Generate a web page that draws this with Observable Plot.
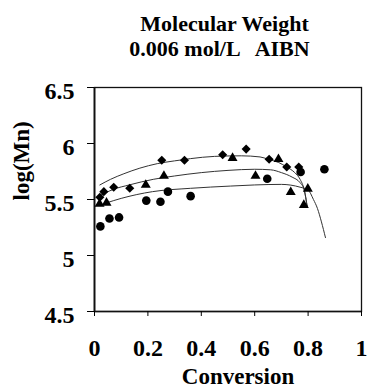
<!DOCTYPE html>
<html>
<head>
<meta charset="utf-8">
<script src="https://cdn.jsdelivr.net/npm/d3@7"></script>
<script src="https://cdn.jsdelivr.net/npm/@observablehq/plot@0.6"></script>
</head>
<body style="margin:0">
<div id="title" style="width:368px;height:64px;box-sizing:border-box;padding-top:12px;font-family:serif;font-weight:bold;font-size:22px;line-height:24.5px;color:black">
  <div id="t1" style="text-align:center;white-space:pre;padding-left:81px"></div>
  <div id="t2" style="text-align:center;white-space:pre;padding-left:71px"></div>
</div>
<div id="chart"></div>
<script>
const titleLine1 = "Molecular Weight";
const titleLine2 = "0.006 mol/L   AIBN";
const xLabel = "Conversion";
const yLabel = "log(Mn)";

const xTicks = [0, 0.2, 0.4, 0.6, 0.8, 1];
const xTickLabels = ["0", "0.2", "0.4", "0.6", "0.8", "1"];
const yTicks = [4.5, 5, 5.5, 6, 6.5];
const yTickLabels = ["4.5", "5", "5.5", "6", "6.5"];

// Data points
const diamondX = [0.02, 0.035, 0.072, 0.132, 0.252, 0.337, 0.48, 0.568, 0.654, 0.72, 0.765];
const diamondY = [5.52, 5.57, 5.61, 5.60, 5.85, 5.85, 5.90, 5.95, 5.86, 5.79, 5.79];
const triangleX = [0.019, 0.045, 0.192, 0.26, 0.517, 0.603, 0.689, 0.735, 0.784, 0.799];
const triangleY = [5.46, 5.47, 5.63, 5.71, 5.87, 5.71, 5.86, 5.565, 5.45, 5.595];
const circleX = [0.022, 0.056, 0.092, 0.194, 0.247, 0.275, 0.36, 0.647, 0.772, 0.861];
const circleY = [5.26, 5.33, 5.34, 5.49, 5.48, 5.57, 5.53, 5.685, 5.745, 5.77];

// Model curves
const topLineX = [0.02, 0.06, 0.11, 0.17, 0.235, 0.30, 0.36, 0.45, 0.55, 0.62, 0.65, 0.69, 0.72, 0.75, 0.77, 0.785, 0.797];
const topLineY = [5.63, 5.68, 5.73, 5.78, 5.82, 5.845, 5.865, 5.885, 5.89, 5.88, 5.86, 5.83, 5.79, 5.74, 5.68, 5.59, 5.43];
const midLineX = [0.01, 0.07, 0.13, 0.22, 0.30, 0.40, 0.50, 0.60, 0.66, 0.70, 0.74, 0.77, 0.785, 0.797];
const midLineY = [5.52, 5.59, 5.63, 5.68, 5.71, 5.74, 5.76, 5.77, 5.765, 5.74, 5.70, 5.65, 5.59, 5.43];
const lowLineX = [0.045, 0.10, 0.217, 0.36, 0.51, 0.60, 0.70, 0.77, 0.80, 0.82, 0.835, 0.85, 0.865];
const lowLineY = [5.47, 5.51, 5.57, 5.60, 5.62, 5.63, 5.635, 5.61, 5.585, 5.50, 5.42, 5.30, 5.16];

document.getElementById("t1").textContent = titleLine1;
document.getElementById("t2").textContent = titleLine2;

const pts = (xs, ys) => xs.map((x, i) => ({x, y: ys[i]}));
const font = "Times New Roman";

const chart = Plot.plot({
  width: 368,
  height: 324,
  marginTop: 23,
  marginLeft: 94,
  marginRight: 7,
  marginBottom: 77,
  style: {fontFamily: font},
  x: {domain: [0, 1]},
  y: {domain: [4.5, 6.5]},
  marks: [
    Plot.frame({stroke: "#111", strokeWidth: 1.3}),
    Plot.ruleX([0], {stroke: "#111", strokeWidth: 1.8}),
    Plot.ruleY([4.5], {stroke: "#111", strokeWidth: 1.6}),
    Plot.axisX(xTicks, {tickSize: 5, tickFormat: () => "", label: null, strokeWidth: 1}),
    Plot.axisX(xTicks, {tickSize: 0, tickPadding: 27, fontSize: 24, fontFamily: font, fontWeight: "bold", label: null,
      tickFormat: d => xTickLabels[xTicks.indexOf(d)]}),
    Plot.axisY(yTicks, {tickSize: 7, tickFormat: () => "", label: null, strokeWidth: 1}),
    Plot.axisY(yTicks, {tickSize: 0, tickPadding: 20, fontSize: 24, fontFamily: font, fontWeight: "bold", dy: 4, label: null,
      tickFormat: d => yTickLabels[yTicks.indexOf(d)]}),
    Plot.line(pts(topLineX, topLineY), {x: "x", y: "y", stroke: "#333", strokeWidth: 1, curve: "monotone-x"}),
    Plot.line(pts(midLineX, midLineY), {x: "x", y: "y", stroke: "#333", strokeWidth: 1, curve: "monotone-x"}),
    Plot.line(pts(lowLineX, lowLineY), {x: "x", y: "y", stroke: "#333", strokeWidth: 1, curve: "monotone-x"}),
    Plot.dot(pts(diamondX, diamondY), {x: "x", y: "y", symbol: "diamond2", r: 4.1, fill: "black", stroke: "none"}),
    Plot.dot(pts(triangleX, triangleY), {x: "x", y: "y", symbol: "triangle", r: 3.7, fill: "black", stroke: "none"}),
    Plot.dot(pts(circleX, circleY), {x: "x", y: "y", symbol: "circle", r: 4.3, fill: "black", stroke: "none"}),
    Plot.text([xLabel], {text: d => d, frameAnchor: "bottom", lineAnchor: "bottom", dy: 72, dx: 10, fontSize: 23, fontFamily: font, fontWeight: "bold", fill: "black"}),
    Plot.text([yLabel], {text: d => d, frameAnchor: "left", lineAnchor: "bottom", rotate: -90, dx: -65.5, dy: 1, fontSize: 23, fontFamily: font, fontWeight: "bold", fill: "black"})
  ]
});
document.getElementById("chart").appendChild(chart);
</script>
</body>
</html>
